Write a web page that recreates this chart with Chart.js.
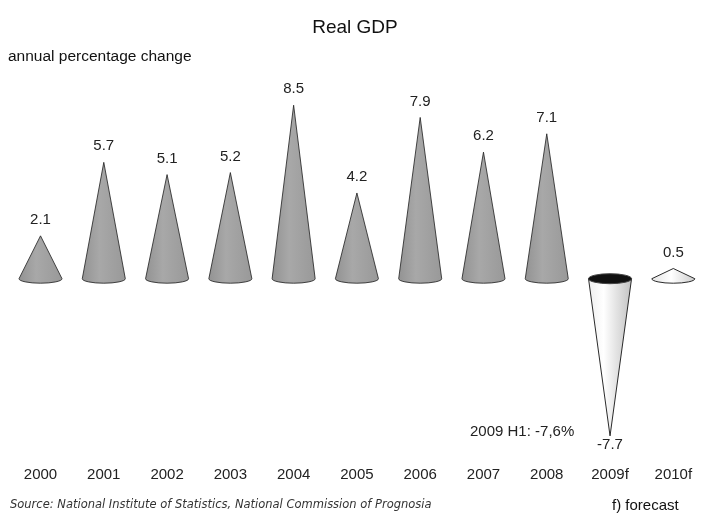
<!DOCTYPE html>
<html>
<head>
<meta charset="utf-8">
<title>Real GDP</title>
<script src="https://cdn.jsdelivr.net/npm/chart.js@4/dist/chart.umd.min.js"></script>
<style>
  html, body { margin: 0; padding: 0; background: #fff; }
  #wrap { width: 706px; height: 518px; overflow: hidden; position: relative; }
  #wrap canvas { position: absolute; left: 0; top: 0; }
</style>
</head>
<body>
<div id="wrap"><canvas id="gdpChart" width="716" height="518"></canvas></div>
<script>
const years = ['2000', '2001', '2002', '2003', '2004', '2005', '2006', '2007', '2008', '2009f', '2010f'];
const gdpChange = [2.1, 5.7, 5.1, 5.2, 8.5, 4.2, 7.9, 6.2, 7.1, -7.7, 0.5];
const forecastYears = ['2009f', '2010f'];

const chartTitle = 'Real GDP';
const unitNote = 'annual percentage change';
const h1Note = '2009 H1: -7,6%';
const sourceNote = 'Source: National Institute of Statistics, National Commission of Prognosia';
const forecastNote = 'f) forecast';

const FONT = '"Liberation Sans", Arial, sans-serif';
const ELLIPSE_RY = 4.5;

function coneGradient(ctx, x, r, stops) {
    const g = ctx.createLinearGradient(x - r, 0, x + r, 0);
    stops.forEach(([pos, col]) => g.addColorStop(pos, col));
    return g;
}

// cone standing on the zero line, tip at the value
function drawUpCone(ctx, x, tip, base, r, light) {
    ctx.beginPath();
    ctx.moveTo(x, tip);
    ctx.lineTo(x + r, base);
    ctx.ellipse(x, base, r, ELLIPSE_RY, 0, 0, Math.PI);
    ctx.closePath();
    ctx.fillStyle = light
        ? coneGradient(ctx, x, r, [[0, '#e4e4e4'], [0.45, '#ffffff'], [1, '#cdcdcd']])
        : coneGradient(ctx, x, r, [[0, '#939393'], [0.4, '#a8a8a8'], [1, '#999999']]);
    ctx.fill();
    ctx.strokeStyle = light ? 'rgba(20,20,20,0.9)' : 'rgba(30,30,30,0.8)';
    ctx.lineWidth = 1;
    ctx.stroke();
}

// hanging cone with a dark opening on the zero line
function drawDownCone(ctx, x, tip, base, r) {
    ctx.beginPath();
    ctx.moveTo(x - r, base);
    ctx.lineTo(x, tip);
    ctx.lineTo(x + r, base);
    ctx.closePath();
    ctx.fillStyle = coneGradient(ctx, x, r, [[0, '#eeeeee'], [0.35, '#ffffff'], [1, '#c2c2c2']]);
    ctx.fill();
    ctx.strokeStyle = 'rgba(20,20,20,0.9)';
    ctx.lineWidth = 1;
    ctx.stroke();

    ctx.beginPath();
    ctx.ellipse(x, base, r, ELLIPSE_RY + 0.5, 0, 0, Math.PI * 2);
    ctx.fillStyle = '#111';
    ctx.fill();
    ctx.strokeStyle = '#444';
    ctx.stroke();
}

const conePlugin = {
    id: 'cones',
    afterDatasetsDraw(chart) {
        const ctx = chart.ctx;
        const meta = chart.getDatasetMeta(0);
        meta.data.forEach((bar, i) => {
            const { x, y, base, width } = bar.getProps(['x', 'y', 'base', 'width'], true);
            const r = width / 2;
            const value = gdpChange[i];
            const forecast = forecastYears.includes(years[i]);
            ctx.save();
            if (value >= 0) {
                drawUpCone(ctx, x, y, base, r, forecast);
            } else {
                drawDownCone(ctx, x, y, base, r);
            }
            // value label above the tip (below it for negatives)
            ctx.fillStyle = '#222';
            ctx.font = '15px ' + FONT;
            ctx.textAlign = 'center';
            ctx.textBaseline = 'middle';
            ctx.fillText(value.toFixed(1), x, value >= 0 ? y - 16 : y + 9);
            ctx.restore();
        });
    }
};

const notesPlugin = {
    id: 'notes',
    afterDraw(chart) {
        const ctx = chart.ctx;
        ctx.save();
        ctx.fillStyle = '#111';
        ctx.textBaseline = 'middle';

        ctx.font = '19px ' + FONT;
        ctx.textAlign = 'center';
        ctx.fillText(chartTitle, 355, 28);

        ctx.font = '15.5px ' + FONT;
        ctx.textAlign = 'left';
        ctx.fillText(unitNote, 8, 57);

        ctx.font = '15px ' + FONT;
        ctx.fillStyle = '#222';
        ctx.fillText(h1Note, 470, 432);

        ctx.fillStyle = '#333';
        ctx.font = 'italic 11.5px "DejaVu Sans", Verdana, sans-serif';
        ctx.fillText(sourceNote, 10, 505);

        ctx.fillStyle = '#111';
        ctx.font = '15px ' + FONT;
        ctx.fillText(forecastNote, 612, 506);
        ctx.restore();
    }
};

new Chart(document.getElementById('gdpChart'), {
    type: 'bar',
    data: {
        labels: years,
        datasets: [{
            data: gdpChange,
            backgroundColor: 'rgba(0,0,0,0)',
            borderWidth: 0,
            barPercentage: 0.68,
            categoryPercentage: 1
        }]
    },
    options: {
        responsive: false,
        animation: false,
        layout: { padding: { top: 95, bottom: 10, left: 7, right: 0 } },
        plugins: {
            legend: { display: false },
            tooltip: { enabled: false },
            title: { display: false }
        },
        scales: {
            x: {
                grid: { display: false, drawTicks: false },
                border: { display: false },
                ticks: {
                    padding: 24,
                    color: '#222',
                    maxRotation: 0,
                    autoSkip: false,
                    font: { family: FONT, size: 15 }
                }
            },
            y: { display: false, min: -8, max: 9 }
        }
    },
    plugins: [conePlugin, notesPlugin]
});
</script>
</body>
</html>
